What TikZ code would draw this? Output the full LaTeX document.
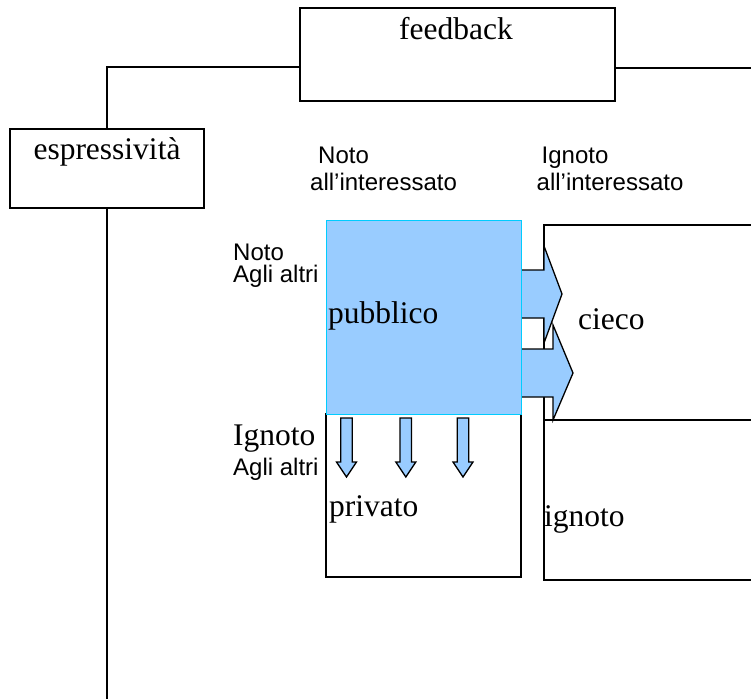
\documentclass[tikz,border=0pt]{standalone}
\usepackage{fontspec}
\setmainfont{Liberation Serif}
\newfontfamily\lsans{Liberation Sans}
\definecolor{lblue}{RGB}{153,204,255}
\definecolor{cyanb}{RGB}{0,204,255}
\begin{document}
\begin{tikzpicture}[x=1pt,y=-1pt,
  box/.style={draw=black,line width=1.3pt,fill=white,inner sep=0,rectangle},
  ser/.style={font=\fontsize{31.5}{36}\selectfont,inner sep=0},
  san/.style={font=\lsans\fontsize{24}{28}\selectfont,inner sep=0},
  conn/.style={draw=black,line width=1.3pt},
  arr/.style={fill=lblue,draw=black,line width=1.3pt,line join=miter}]
\useasboundingbox (0,0) rectangle (751,698);
\clip (0,0) rectangle (751,698);
% boxes
\node[box,minimum width=315pt,minimum height=93pt] (fb) at (457.5,54.5) {};
\node[box,minimum width=194pt,minimum height=79pt] (esp) at (107,168.5) {};
\node[box,minimum width=216pt,minimum height=195pt] (cieco) at (652,322.5) {};
\node[box,minimum width=216pt,minimum height=160pt] (ign) at (652,500) {};
\node[box,minimum width=195pt,minimum height=163pt] (priv) at (423.5,495.5) {};
% connectors
\coordinate (c1) at (107,67);
\coordinate (r1) at (760,68);
\coordinate (bot) at (107,700);
\draw[conn] (fb.west |- c1) -- (c1) -- (esp.north);
\draw[conn] (fb.east |- r1) -- (r1);
\draw[conn] (esp.south) -- (bot);
% right arrows
\draw[arr] (516,270) -- (544,270) -- (544,246) -- (562,294) -- (544,343) -- (544,318) -- (516,318) -- cycle;
\draw[arr] (516,349) -- (553,349) -- (553,325) -- (573,373) -- (553,420) -- (553,397) -- (516,397) -- cycle;
% pubblico
\node[rectangle,draw=cyanb,fill=lblue,line width=1pt,inner sep=0,minimum width=195pt,minimum height=194pt] (pub) at (423.5,317) {};
% down arrows
\foreach \cx in {346.5,405.8,463}{
  \draw[arr] (\cx-5.75,418) -- (\cx+5.75,418) -- (\cx+5.75,462) -- (\cx+10,462) -- (\cx,477) -- (\cx-10,462) -- (\cx-5.75,462) -- cycle;
}
% texts
\node[ser,anchor=base] (tfb) at (456,40) {feedback};
\node[ser,anchor=base] (tesp) at (107,159) {espressività};
\node[san,anchor=base west] (n1) at (318,163) {Noto};
\node[san,anchor=base west] (n2) at (310,190) {all’interessato};
\node[san,anchor=base west] (i1) at (541.5,163) {Ignoto};
\node[san,anchor=base west] (i2) at (536.5,190) {all’interessato};
\node[san,anchor=base west] (l1) at (233,260) {Noto};
\node[san,anchor=base west] (l2) at (233,282) {Agli altri};
\node[ser,anchor=base west] (l3) at (233,445) {Ignoto};
\node[san,anchor=base west] (l4) at (233,475) {Agli altri};
\node[ser,anchor=base west] (tpub) at (328,323) {pubblico};
\node[ser,anchor=base west] (tcie) at (578,329) {cieco};
\node[ser,anchor=base west] (tpri) at (329,516) {privato};
\node[ser,anchor=base west] (tign) at (544,526) {ignoto};
\end{tikzpicture}
\end{document}
